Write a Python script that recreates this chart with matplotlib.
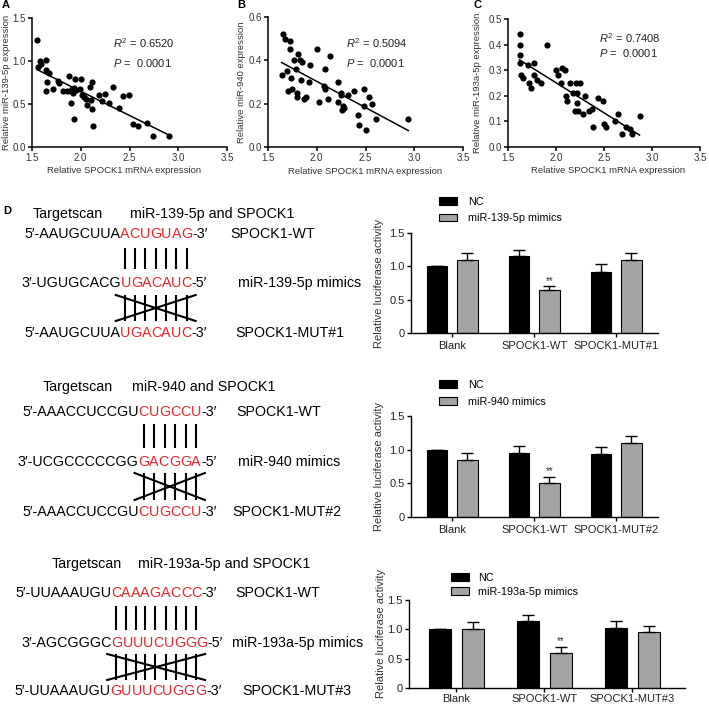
import numpy as np
import matplotlib
matplotlib.use('Agg')
import matplotlib.pyplot as plt

plt.rcParams['font.family'] = ['Liberation Sans', 'DejaVu Sans']
plt.rcParams['mathtext.fontset'] = 'custom'
plt.rcParams['mathtext.rm'] = 'Liberation Sans'
plt.rcParams['mathtext.it'] = 'Liberation Sans:italic'

W, H = 709, 707
RED = '#e3262b'
GRAY = '#a3a3a3'

# ---- scatter data (A, B, C) ----
A_x = [1.55, 1.56, 1.58, 1.59, 1.64, 1.64, 1.65, 1.64, 1.67, 1.72,
       1.77, 1.78, 1.82, 1.86, 1.88, 1.89, 1.90, 1.91, 1.92, 1.93,
       1.93, 1.94, 1.95, 1.99, 2.00, 2.01, 2.03, 2.05, 2.06, 2.09,
       2.10, 2.12, 2.12, 2.13, 2.19, 2.22, 2.25, 2.29, 2.33, 2.39,
       2.43, 2.49, 2.54, 2.59, 2.68, 2.74, 2.90]
A_y = [1.25, 0.93, 1.00, 0.97, 1.01, 0.90, 0.76, 0.65, 0.86, 0.68,
       0.77, 0.74, 0.65, 0.65, 0.82, 0.65, 0.51, 0.68, 0.63, 0.69,
       0.32, 0.79, 0.66, 0.67, 0.79, 0.60, 0.58, 0.56, 0.49, 0.70,
       0.55, 0.76, 0.44, 0.25, 0.60, 0.54, 0.62, 0.51, 0.70, 0.45,
       0.59, 0.60, 0.27, 0.25, 0.28, 0.13, 0.13]

B_x = [1.65, 1.67, 1.64, 1.69, 1.70, 1.73, 1.73, 1.74, 1.75, 1.77,
       1.79, 1.81, 1.80, 1.80, 1.83, 1.84, 1.85, 1.87, 1.89, 1.92,
       1.93, 2.00, 2.02, 2.07, 2.08, 2.08, 2.12, 2.14, 2.22, 2.22,
       2.25, 2.25, 2.26, 2.27, 2.28, 2.32, 2.38, 2.42, 2.43, 2.48,
       2.48, 2.51, 2.54, 2.57, 2.61, 2.94]
B_y = [0.52, 0.50, 0.33, 0.35, 0.26, 0.49, 0.45, 0.32, 0.27, 0.40,
       0.36, 0.43, 0.25, 0.23, 0.40, 0.31, 0.39, 0.22, 0.23, 0.30,
       0.38, 0.45, 0.21, 0.28, 0.27, 0.36, 0.22, 0.42, 0.30, 0.21,
       0.24, 0.25, 0.17, 0.19, 0.18, 0.24, 0.26, 0.15, 0.10, 0.27,
       0.19, 0.08, 0.23, 0.20, 0.13, 0.13]

C_x = [1.62, 1.62, 1.63, 1.62, 1.64, 1.66, 1.71, 1.72, 1.74, 1.77,
       1.77, 1.80, 1.84, 1.91, 2.00, 2.02, 2.05, 2.06, 2.09, 2.10,
       2.11, 2.15, 2.18, 2.20, 2.21, 2.22, 2.22, 2.23, 2.25, 2.28,
       2.30, 2.34, 2.37, 2.39, 2.44, 2.49, 2.50, 2.52, 2.61, 2.65,
       2.69, 2.73, 2.77, 2.79, 2.87]
C_y = [0.44, 0.40, 0.36, 0.33, 0.28, 0.27, 0.32, 0.25, 0.23, 0.33,
       0.28, 0.26, 0.25, 0.40, 0.30, 0.28, 0.25, 0.31, 0.30, 0.20,
       0.18, 0.25, 0.21, 0.14, 0.25, 0.21, 0.17, 0.14, 0.25, 0.13,
       0.20, 0.14, 0.15, 0.08, 0.19, 0.18, 0.09, 0.08, 0.10, 0.13,
       0.05, 0.08, 0.07, 0.05, 0.12]

x_ticks = [1.5, 2.0, 2.5, 3.0, 3.5]
A_yticks = [0.0, 0.5, 1.0, 1.5]
B_yticks = [0.0, 0.2, 0.4, 0.6]
C_yticks = [0.0, 0.1, 0.2, 0.3, 0.4, 0.5]
stats = [('0.6520', '0.0001'), ('0.5094', '0.0001'), ('0.7408', '0.0001')]

# ---- luciferase data (D) ----
cats1 = ['Blank', 'SPOCK1-WT', 'SPOCK1-MUT#1']
cats2 = ['Blank', 'SPOCK1-WT', 'SPOCK1-MUT#2']
cats3 = ['Blank', 'SPOCK1-WT', 'SPOCK1-MUT#3']
nc1, nc1_err = [1.0, 1.15, 0.92], [0.0, 0.10, 0.11]
mim1, mim1_err = [1.10, 0.65, 1.10], [0.10, 0.05, 0.10]
nc2, nc2_err = [1.0, 0.95, 0.93], [0.0, 0.11, 0.11]
mim2, mim2_err = [0.85, 0.50, 1.10], [0.10, 0.10, 0.10]
nc3, nc3_err = [1.0, 1.14, 1.03], [0.0, 0.11, 0.11]
mim3, mim3_err = [1.0, 0.60, 0.95], [0.12, 0.10, 0.10]
stars = ['', '**', '']
bar_yticks = [0, 0.5, 1.0, 1.5]
bar_ylabels = ['0', '0.5', '1.0', '1.5']

fig = plt.figure(figsize=(W / 100, H / 100), dpi=100)


def px_axes(x0, y0, x1, y1):
    return fig.add_axes([x0 / W, 1 - y1 / H, (x1 - x0) / W, (y1 - y0) / H])


def scatter_panel(box, x, y, yticks, ylabel, labx, xlabx):
    x = np.array(x)
    y = np.array(y)
    ax = px_axes(*box)
    ax.patch.set_visible(False)
    ax.scatter(x, y, s=20, c='black', linewidths=0, zorder=3, clip_on=False)
    k, b = np.polyfit(x, y, 1)
    xs = np.array([x.min(), x.max()])
    ax.plot(xs, k * xs + b, color='black', lw=1.1)
    ax.set_xlim(x_ticks[0], x_ticks[-1])
    ax.set_ylim(yticks[0], yticks[-1])
    ax.set_xticks(x_ticks)
    ax.set_xticklabels(['%.1f' % v for v in x_ticks])
    ax.set_yticks(yticks)
    ax.set_yticklabels(['%.1f' % v for v in yticks])
    ax.spines[['top', 'right']].set_visible(False)
    ax.spines[['left', 'bottom']].set_linewidth(1.1)
    ax.tick_params(direction='out', length=3, width=1.1, labelsize=7, pad=1.5,
                   labelcolor='#333333')
    ax.set_xlabel('Relative SPOCK1 mRNA expression', fontsize=6.8, color='#333333')
    ax.set_ylabel(ylabel, fontsize=6.8, color='#333333')
    ax.yaxis.set_label_coords(labx, 0.5)
    ax.xaxis.set_label_coords(xlabx, -0.15)
    return ax


scatter_panel((32, 18, 227, 147), A_x, A_y, A_yticks,
              'Relative miR-139-5p expression', -0.11, 0.47)
scatter_panel((268, 17, 463, 147), B_x, B_y, B_yticks,
              'Relative miR-940 expression', -0.115, 0.5)
scatter_panel((508, 19, 700, 147), C_x, C_y, C_yticks,
              'Relative miR-193a-5p expression', -0.138, 0.52)


def bar_panel(box, xlim, cats, nc, nc_err, mim, mim_err, mim_label,
              anchor, spacing, textpad, labxy, tickpad):
    ax = px_axes(*box)
    pos = np.arange(len(cats))
    w, off = 0.25, 0.186
    n = len(cats)
    ax.bar(pos - off, nc, w, color='black', edgecolor='black', lw=0.8, label='NC')
    ax.bar(pos + off, mim, w, color=GRAY, edgecolor='black', lw=0.8, label=mim_label)
    ax.errorbar(pos - off, nc, yerr=[np.zeros(n), nc_err], fmt='none',
                ecolor='black', elinewidth=1, capsize=4, capthick=1)
    ax.errorbar(pos + off, mim, yerr=[np.zeros(n), mim_err], fmt='none',
                ecolor='black', elinewidth=1, capsize=4, capthick=1)
    for i, s in enumerate(stars):
        if s:
            ax.annotate(s, xy=(pos[i] + off, mim[i] + mim_err[i]), xytext=(0, 0.5),
                        textcoords='offset points', ha='center', va='bottom',
                        fontsize=7, color='#333333')
    ax.set_xlim(*xlim)
    ax.set_ylim(0, 1.5)
    ax.set_yticks(bar_yticks)
    ax.set_yticklabels(bar_ylabels)
    ax.set_xticks(pos)
    ax.set_xticklabels(cats)
    ax.spines[['top', 'right']].set_visible(False)
    ax.spines[['left', 'bottom']].set_linewidth(1.0)
    ax.tick_params(direction='out', length=3, width=1.0, labelsize=8, pad=1.5,
                   labelcolor='#222222')
    ax.tick_params(axis='x', pad=tickpad)
    ax.set_ylabel('Relative luciferase activity', fontsize=8, color='#333333')
    ax.yaxis.set_label_coords(*labxy)
    ax.legend(loc='upper left', bbox_to_anchor=anchor, frameon=False, fontsize=7.8,
              handlelength=1.7, handleheight=0.7, handletextpad=textpad,
              labelspacing=spacing, borderpad=0, borderaxespad=0)
    return ax


bar_panel((411, 233, 658, 333), (-0.5, 2.51), cats1, nc1, nc1_err, mim1, mim1_err,
          'miR-139-5p mimics', (0.113, 1.36), 0.6, 1.0, (-0.111, 0.5), 3)
bar_panel((411, 416, 658, 517), (-0.5, 2.51), cats2, nc2, nc2_err, mim2, mim2_err,
          'miR-940 mimics', (0.113, 1.356), 0.6, 1.0, (-0.111, 0.5), 3)
bar_panel((409, 600, 685, 688), (-0.54, 2.6), cats3, nc3, nc3_err, mim3, mim3_err,
          'miR-193a-5p mimics', (0.152, 1.307), 0.35, 0.83, (-0.085, 0.62), 1.5)

# ---- overlay for panel letters, stats text and sequence diagrams ----
ov = fig.add_axes([0, 0, 1, 1])
ov.set_xlim(0, W)
ov.set_ylim(H, 0)
ov.axis('off')
ov.set_zorder(10)

for letter, lx in [('A', 2), ('B', 237), ('C', 473)]:
    ov.text(lx, 5, letter, fontsize=8, fontweight='bold', va='center')
ov.text(3, 211, 'D', fontsize=8, fontweight='bold', va='center')

for (r2, p), (tx, ty, dy) in zip(stats, [(113, 43, 20), (346, 43, 20), (599, 38, 15)]):
    ov.text(tx, ty, r'$\mathit{R}^2$ = ' + r2, fontsize=8, va='center', color='#222222')
    ov.text(tx, ty + dy, r'$\mathit{P}$ =  ' + p, fontsize=8, va='center', color='#222222')

SEQ_FS = 10.3
sections = [
    dict(title=(33, 214, 130, 'miR-139-5p and SPOCK1'),
         rows=[(24, 234, "5′-AAUGCUUA", "ACUGUAG", "-3′", 'SPOCK1-WT', 230),
               (21, 283, "3′-UGUGCACG", "UGACAUC", "-5′", 'miR-139-5p mimics', 238),
               (24, 333, "5′-AAUGCUUA", "UGACAUC", "-3′", 'SPOCK1-MUT#1', 235)],
         pair=(248, 269), cross=(295, 321)),
    dict(title=(43, 387, 132, 'miR-940 and SPOCK1'),
         rows=[(22, 412, "5′-AAACCUCCGU", "CUGCCU", "-3′", 'SPOCK1-WT', 236),
               (17, 462, "3′-UCGCCCCCGG", "GACGGA", "-5′", 'miR-940 mimics', 238),
               (22, 512, "5′-AAACCUCCGU", "CUGCCU", "-3′", 'SPOCK1-MUT#2', 232)],
         pair=(424, 448), cross=(473, 500)),
    dict(title=(52, 564, 138, 'miR-193a-5p and SPOCK1'),
         rows=[(15, 593, "5′-UUAAAUGU", "CAAAGACCC", "-3′", 'SPOCK1-WT', 235),
               (21, 643, "3′-AGCGGGC", "GUUUCUGGG", "-5′", 'miR-193a-5p mimics', 232),
               (14, 691, "5′-UUAAAUGU", "GUUUCUGGG", "-3′", 'SPOCK1-MUT#3', 242)],
         pair=(606, 630), cross=(654, 680)),
]

wt_letters = []
for sec in sections:
    tx, ty, mx, mtxt = sec['title']
    ov.text(tx, ty, 'Targetscan', fontsize=SEQ_FS, va='center')
    ov.text(mx, ty, mtxt, fontsize=SEQ_FS, va='center')
    first = None
    for (x, y, pre, red, suf, lab, labx) in sec['rows']:
        prev = ov.text(x, y, pre, fontsize=SEQ_FS, va='center')
        reds = []
        for ch in red:
            prev = ov.annotate(ch, xy=(1, 0), xycoords=prev, va='bottom', ha='left',
                               fontsize=SEQ_FS, color=RED)
            reds.append(prev)
        ov.annotate(suf, xy=(1, 0), xycoords=prev, va='bottom', ha='left', fontsize=SEQ_FS)
        ov.text(labx, y, lab, fontsize=SEQ_FS, va='center')
        if first is None:
            first = reds
    wt_letters.append(first)

fig.canvas.draw()
inv = ov.transData.inverted()
for sec, reds in zip(sections, wt_letters):
    cx = []
    for t in reds:
        bb = t.get_window_extent()
        cx.append(inv.transform(((bb.x0 + bb.x1) / 2, bb.y0))[0])
    cx = np.array(cx)
    y0, y1 = sec['pair']
    ov.vlines(cx, y0, y1, color='black', lw=1.5)
    c0, c1 = sec['cross']
    ov.vlines(cx, c0, c1, color='black', lw=1.5)
    m = 9
    ov.plot([cx[0] - m, cx[-1] + m], [c0, c1], color='black', lw=1.5)
    ov.plot([cx[0] - m, cx[-1] + m], [c1, c0], color='black', lw=1.5)

fig.savefig('out.png', dpi=100)
